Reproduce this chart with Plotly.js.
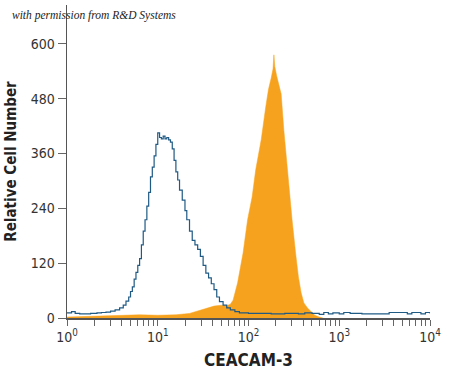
<!DOCTYPE html>
<html>
<head>
<meta charset="utf-8">
<script src="https://cdn.plot.ly/plotly-3.0.1.min.js"></script>
<style>html,body{margin:0;padding:0;background:#fff;}#chart{width:450px;height:381px;}</style>
</head>
<body>
<div id="chart"></div>
<script>
// Isotype control (blue outline): bin position (log10 of intensity) and relative cell number
const blueLogBins = [0.00,0.05,0.09,0.14,0.20,0.26,0.33,0.38,0.43,0.48,0.53,0.58,0.62,0.65,0.68,0.70,0.72,0.74,0.76,0.78,0.80,0.82,0.84,0.86,0.88,0.90,0.92,0.94,0.96,0.98,1.00,1.02,1.04,1.06,1.08,1.10,1.12,1.14,1.16,1.18,1.20,1.22,1.24,1.27,1.30,1.32,1.35,1.38,1.41,1.44,1.47,1.50,1.53,1.56,1.59,1.62,1.65,1.68,1.72,1.76,1.80,1.85,1.90,2.00,2.10,2.25,2.40,2.55,2.62,2.70,2.78,2.83,2.88,2.93,3.00,3.05,3.12,3.25,3.50,3.55,3.75,3.80,3.90,3.95,4.00];
const blueCounts  = [11,14,10,9,9,10,11,12,13,15,18,22,28,37,46,58,68,85,100,115,130,160,190,215,245,275,309,330,355,380,405,395,392,398,392,395,390,385,370,345,320,302,280,258,235,215,190,170,160,150,135,115,98,88,75,62,46,36,28,22,18,14,11,10,10,9,10,9,11,10,8,12,9,11,9,12,10,9,9,12,9,12,9,12,10];
// CEACAM-3 stained cells (orange filled histogram)
const orangeLogBins = [0.00,0.15,0.30,0.45,0.60,0.80,1.00,1.20,1.35,1.45,1.55,1.62,1.70,1.76,1.80,1.83,1.88,1.94,1.99,2.04,2.08,2.14,2.19,2.22,2.25,2.27,2.28,2.29,2.31,2.33,2.36,2.39,2.42,2.45,2.48,2.52,2.55,2.58,2.61,2.65,2.69,2.73,2.78,2.82];
const orangeCounts  = [2,3,5,6,6,7,6,7,10,16,22,26,28,27,30,39,77,142,215,265,325,390,462,500,525,545,576,550,530,515,490,410,340,280,215,140,90,55,33,22,14,6,2,0];
// Axis ticks
const yTicks = [0,120,240,360,480,600];
const xMajor = [0,1,2,3,4];
const xMajorLabels = ["10<sup>0</sup>","10<sup>1</sup>","10<sup>2</sup>","10<sup>3</sup>","10<sup>4</sup>"];

const toLin = a => a.map(v => Math.pow(10, v));
const minorVals = [];
for (let d = 0; d < 4; d++) {
  for (let m = 2; m <= 9; m++) minorVals.push(m * Math.pow(10, d));
}

const narrow = "Liberation Sans Narrow, DejaVu Sans Condensed, Arial Narrow, sans-serif";

const traces = [
  {x: toLin(orangeLogBins), y: orangeCounts, type: 'scatter', mode: 'lines',
   line: {color: '#f7a21f', width: 0.5, shape: 'linear'}, fill: 'tozeroy', fillcolor: '#f7a21f', hoverinfo: 'skip'},
  {x: toLin(blueLogBins), y: blueCounts, type: 'scatter', mode: 'lines',
   line: {color: '#1f5a85', width: 1.2, shape: 'hv'}, hoverinfo: 'skip'}
];

const layout = {
  width: 450, height: 381,
  margin: {l: 67, r: 20, t: 5, b: 63},
  paper_bgcolor: '#fff', plot_bgcolor: '#fff',
  showlegend: false,
  xaxis: {
    type: 'log', range: [0, 4],
    tickmode: 'array', tickvals: toLin(xMajor), ticktext: xMajorLabels,
    ticks: 'outside', ticklen: 6, tickwidth: 1, tickcolor: '#666',
    minor: {tickmode: 'array', tickvals: minorVals, ticks: 'outside', ticklen: 6, tickwidth: 1, tickcolor: '#666', showgrid: false},
    showline: true, linecolor: '#555', linewidth: 1.5,
    showgrid: false, zeroline: false,
    tickfont: {family: narrow, size: 14, color: '#333'},
    title: {text: '<b>CEACAM-3</b>', font: {family: narrow, size: 17, color: '#222'}, standoff: 10}
  },
  yaxis: {
    range: [0, 685],
    tickmode: 'array', tickvals: yTicks, ticktext: yTicks.map(String),
    ticks: 'outside', ticklen: 8, tickwidth: 1, tickcolor: '#666',
    showline: true, linecolor: '#555', linewidth: 1.5,
    showgrid: false, zeroline: false,
    tickfont: {family: narrow, size: 14, color: '#333'},
    title: {text: '<b>Relative Cell Number</b>', font: {family: narrow, size: 15, color: '#222'}, standoff: 10}
  },
  annotations: [{
    text: '<i>with permission from R&amp;D Systems</i>',
    xref: 'paper', yref: 'paper', x: -0.157, y: 0.965, xanchor: 'left', yanchor: 'middle',
    showarrow: false, font: {family: 'Liberation Serif, DejaVu Serif, serif', size: 11.5, color: '#222'}
  }]
};

Plotly.newPlot('chart', traces, layout, {displayModeBar: false, staticPlot: true});
</script>
</body>
</html>
